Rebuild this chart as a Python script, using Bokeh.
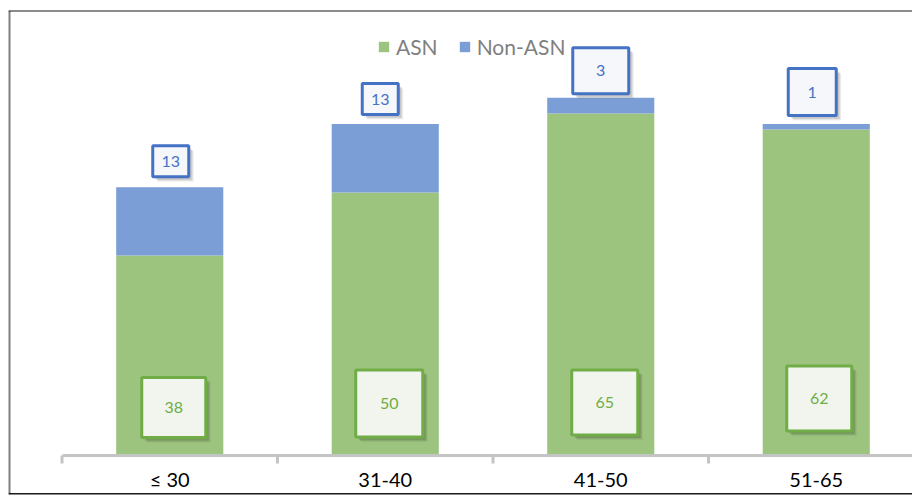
from bokeh.plotting import figure
from bokeh.models import Range1d, LinearAxis, FixedTicker, Legend, LegendItem, ColumnDataSource
from bokeh.embed import file_html
from bokeh.resources import INLINE
from bokeh.core.properties import value

# ---------------- data ----------------
categories = ["≤ 30", "31-40", "41-50", "51-65"]
asn = [38, 50, 65, 62]
non_asn = [13, 13, 3, 1]
series_names = ["ASN", "Non-ASN"]

# ---------------- style ----------------
GREEN = "#9DC47F"
BLUE = "#7B9ED6"
GREEN_DARK = "#70AD47"
BLUE_DARK = "#4472C4"
FONT = "Lato"

# label box sizes (px) and nudges (px) -- styling only
asn_box_w = [64, 67, 66, 65]
asn_box_h = [60, 67, 65, 65]
asn_box_dx = [4, 4, 4, 3]
asn_box_up = [48, 52, 53, 57]          # centre height above baseline
non_box_w = [36, 36, 56, 48]
non_box_h = [31, 31, 46, 47]
non_box_dx = [1, -5, 0, -4]
non_box_up = [26, 25, 27, 32]          # centre height above stack top

W, H = 912, 496
B_LEFT, B_TOP, B_RIGHT, B_BOTTOM = 8, 10, 0, 2
frame_w = W - B_LEFT - B_RIGHT
frame_h = H - B_TOP - B_BOTTOM
CAT_PX = 215.5      # pixels per category
UNIT_PX = 5.26      # pixels per count
x_start = -53.5 / CAT_PX
x_end = x_start + frame_w / CAT_PX
y_start = -39.0 / UNIT_PX
y_end = y_start + frame_h / UNIT_PX

def px_x(v):
    return v / CAT_PX

def px_y(v):
    return v / UNIT_PX

n = len(categories)
centers = [i + 0.5 for i in range(n)]
totals = [a + b for a, b in zip(asn, non_asn)]

src = ColumnDataSource(dict(x=centers, cat=categories, asn=asn, non=non_asn, total=totals,
                            zero=[0] * n))

p = figure(width=W, height=H, x_range=Range1d(x_start, x_end), y_range=Range1d(y_start, y_end),
           output_backend="svg", toolbar_location=None,
           x_axis_location=None, y_axis_location=None,
           min_border_left=B_LEFT, min_border_right=B_RIGHT,
           min_border_top=B_TOP, min_border_bottom=B_BOTTOM,
           outline_line_color=None, background_fill_color="white", border_fill_color="white")
p.grid.visible = False

r_asn = p.vbar(x="x", width=0.497, bottom="zero", top="asn", source=src,
               fill_color=GREEN, line_color=None)
r_non = p.vbar(x="x", width=0.497, bottom="asn", top="total", source=src,
               fill_color=BLUE, line_color=None)

# category axis (drawn at y = 0 inside the frame)
xaxis = LinearAxis(fixed_location=0, ticker=FixedTicker(ticks=centers),
                   major_label_overrides={c: lab for c, lab in zip(centers, categories)},
                   bounds=(0, x_end),
                   axis_line_color="#C4C4C4", axis_line_width=3,
                   major_tick_line_color=None, minor_tick_line_color=None,
                   major_label_text_font=FONT, major_label_text_font_size="20px",
                   major_label_text_color="black", major_label_standoff=5)
p.add_layout(xaxis, "below")

# boundary ticks between categories
bounds_x = list(range(n + 1))
p.segment(x0=bounds_x, x1=bounds_x, y0=[0] * (n + 1), y1=[-px_y(8)] * (n + 1),
          line_color="#C4C4C4", line_width=3)

# ---------------- data labels ----------------
def label_boxes(xs, ys, ws, hs, texts, border, fill, color):
    for dx, dy, alpha in [(5, 5, 0.06), (4, 4, 0.08), (3, 3, 0.10)]:
        p.rect(x=[x + px_x(dx) for x in xs], y=[y - px_y(dy) for y in ys],
               width=ws, height=hs, width_units="screen", height_units="screen",
               fill_color="black", fill_alpha=alpha, line_color=None)
    p.rect(x=xs, y=ys, width=ws, height=hs, width_units="screen", height_units="screen",
           fill_color=fill, line_color=border, line_width=3)
    p.text(x=xs, y=ys, text=texts, text_align="center", text_baseline="middle",
           text_font=value(FONT), text_font_size="16px", text_color=color)

asn_x = [c + px_x(d) for c, d in zip(centers, asn_box_dx)]
asn_y = [px_y(u) for u in asn_box_up]
label_boxes(asn_x, asn_y, asn_box_w, asn_box_h, [str(v) for v in asn],
            GREEN_DARK, "#F2F5EE", GREEN_DARK)

non_x = [c + px_x(d) for c, d in zip(centers, non_box_dx)]
non_y = [t + px_y(u) for t, u in zip(totals, non_box_up)]
label_boxes(non_x, non_y, non_box_w, non_box_h, [str(v) for v in non_asn],
            BLUE_DARK, "#F5F7FA", BLUE_DARK)

# ---------------- frame lines ----------------
p.line(x=[x_start, x_start], y=[y_start, y_end], line_color="#808080", line_width=4)
p.line(x=[x_start, x_end], y=[y_end, y_end], line_color="#1A1A1A", line_width=2)
p.line(x=[x_start, x_end], y=[y_start, y_start], line_color="#1A1A1A", line_width=3)

# ---------------- legend ----------------
legend = Legend(items=[LegendItem(label=series_names[0], renderers=[r_asn]),
                       LegendItem(label=series_names[1], renderers=[r_non])],
                orientation="horizontal", location=(369, 435),
                glyph_width=13, glyph_height=13, label_standoff=6, spacing=20,
                padding=0, margin=0, border_line_color=None, background_fill_alpha=0,
                label_text_font=FONT, label_text_font_size="21px", label_text_color="#7F7F7F")
p.add_layout(legend)

open("out.html", "w").write(file_html(p, INLINE))
